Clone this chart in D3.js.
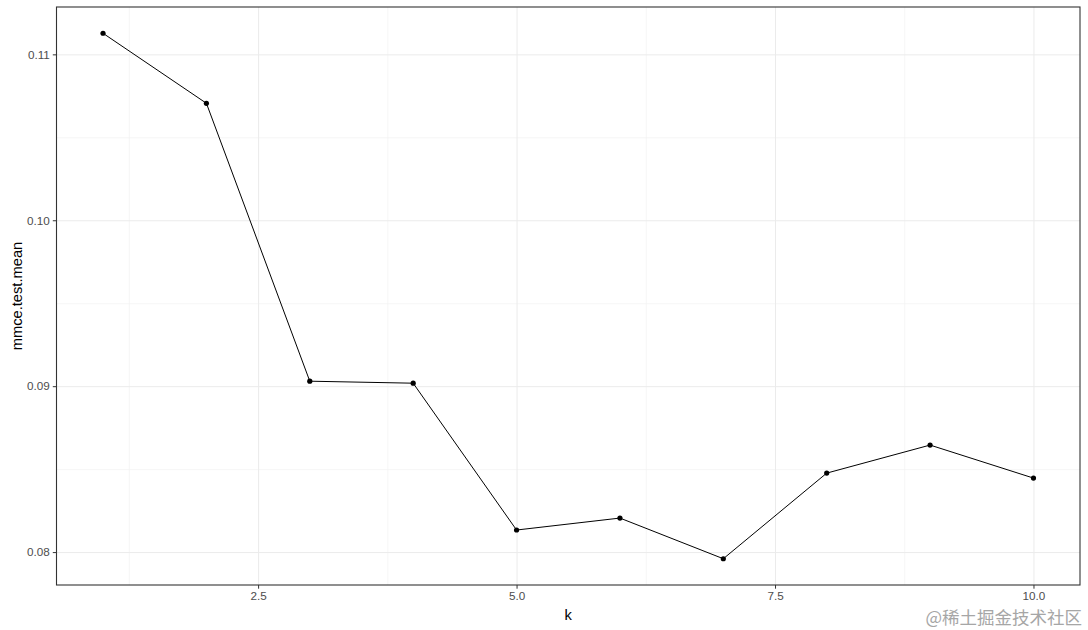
<!DOCTYPE html>
<html lang='en'>
<head>
    <meta charset='UTF-8'>
    <title>mmce.test.mean by k</title>
    <script src='https://cdn.jsdelivr.net/npm/d3@7'></script>
    <style>
        body { margin: 0; background: #fff; }
        svg { font-family: 'Liberation Sans', Arial, sans-serif; display: block; }
        .tick text { fill: #4d4d4d; font-size: 11.7px; }
        .axis path { display: none; }
        .axis line { stroke: #333; }
        .grid-major line { stroke: #ebebeb; stroke-width: 1; }
        .grid-minor line { stroke: #f2f2f2; stroke-width: 0.7; }
        .line { fill: none; stroke: #000; stroke-width: 1; }
    </style>
</head>
<body>
<script>
    // data
    const kValues = [1, 2, 3, 4, 5, 6, 7, 8, 9, 10];
    const mmce = [0.11127, 0.10705, 0.09030, 0.09018, 0.08133, 0.08205, 0.07960, 0.08476, 0.08645, 0.08446];
    const xTicks = [2.5, 5.0, 7.5, 10.0];
    const xMinor = [1.25, 3.75, 6.25, 8.75];
    const yTicks = [0.08, 0.09, 0.10, 0.11];
    const yMinor = [0.085, 0.095, 0.105];

    const W = 1088, H = 630;
    const margin = { top: 7, right: 8, bottom: 45, left: 56.5 };
    const width = W - margin.left - margin.right;
    const height = H - margin.top - margin.bottom;

    const svg = d3.select('body').append('svg')
        .attr('width', W).attr('height', H);

    const g = svg.append('g').attr('transform', `translate(${margin.left}, ${margin.top})`);

    // ggplot style 5% expansion
    const xExt = d3.extent(kValues), yExt = d3.extent(mmce);
    const xPad = (xExt[1] - xExt[0]) * 0.05, yPad = (yExt[1] - yExt[0]) * 0.05;

    const xScale = d3.scaleLinear()
        .domain([xExt[0] - xPad, xExt[1] + xPad])
        .range([0, width]);
    const yScale = d3.scaleLinear()
        .domain([yExt[0] - yPad, yExt[1] + yPad])
        .range([height, 0]);

    // grids
    g.append('g').attr('class', 'grid-minor')
        .call(d3.axisBottom(xScale).tickValues(xMinor).tickSize(height).tickFormat(''))
        .call(s => s.select('.domain').remove());
    g.append('g').attr('class', 'grid-minor')
        .call(d3.axisLeft(yScale).tickValues(yMinor).tickSize(-width).tickFormat(''))
        .call(s => s.select('.domain').remove());
    g.append('g').attr('class', 'grid-major')
        .call(d3.axisBottom(xScale).tickValues(xTicks).tickSize(height).tickFormat(''))
        .call(s => s.select('.domain').remove());
    g.append('g').attr('class', 'grid-major')
        .call(d3.axisLeft(yScale).tickValues(yTicks).tickSize(-width).tickFormat(''))
        .call(s => s.select('.domain').remove());

    // line + points
    const line = d3.line()
        .x((d, i) => xScale(kValues[i]))
        .y(d => yScale(d));

    g.append('path')
        .datum(mmce)
        .attr('class', 'line')
        .attr('d', line);

    g.selectAll('.dot')
        .data(mmce)
        .enter().append('circle')
        .attr('class', 'dot')
        .attr('cx', (d, i) => xScale(kValues[i]))
        .attr('cy', d => yScale(d))
        .attr('r', 2.6)
        .attr('fill', '#000');

    // axes
    g.append('g')
        .attr('class', 'axis')
        .attr('transform', `translate(0, ${height})`)
        .call(d3.axisBottom(xScale).tickValues(xTicks).tickSize(3.7).tickPadding(3).tickFormat(d3.format('.1f')));

    g.append('g')
        .attr('class', 'axis')
        .call(d3.axisLeft(yScale).tickValues(yTicks).tickSize(3.7).tickPadding(3).tickFormat(d3.format('.2f')));

    // panel border
    g.append('rect')
        .attr('width', width).attr('height', height)
        .attr('fill', 'none').attr('stroke', '#333').attr('stroke-width', 1.1);

    // axis titles
    svg.append('text')
        .attr('text-anchor', 'middle')
        .attr('x', margin.left + width / 2)
        .attr('y', 620)
        .style('font-size', '14.7px')
        .text('k');

    svg.append('text')
        .attr('text-anchor', 'middle')
        .attr('transform', `translate(22, ${margin.top + height / 2}) rotate(-90)`)
        .style('font-size', '14.7px')
        .text('mmce.test.mean');

    // watermark
    svg.append('text')
        .attr('text-anchor', 'end')
        .attr('x', 1082)
        .attr('y', 624)
        .attr('fill', '#a6a6a6')
        .style('font-family', "'Noto Sans CJK SC', sans-serif")
        .style('font-size', '17.5px')
        .text('@稀土掘金技术社区');
</script>
</body>
</html>
